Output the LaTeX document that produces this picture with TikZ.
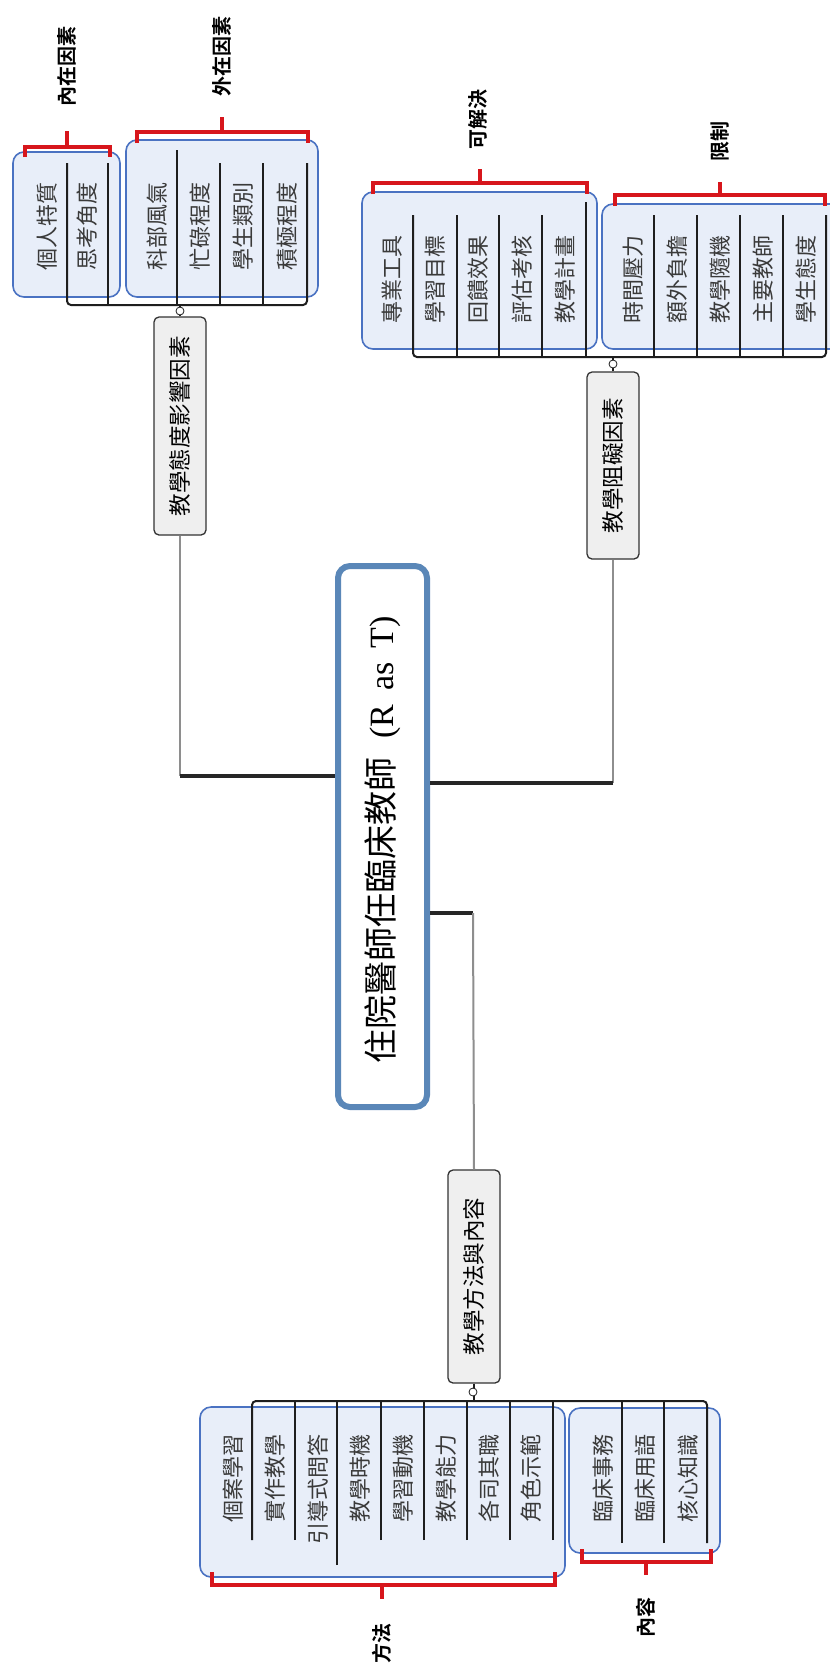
\documentclass[tikz,border=0pt]{standalone}
\usepackage{fontspec}
\newfontfamily\cjk{Noto Sans CJK TC}
\newfontfamily\cjkb{Noto Sans CJK TC Bold}
\newfontfamily\serifl{Liberation Serif}
\newcommand\kidfont{\cjk\fontsize{22}{22}\selectfont}
\newcommand\lblfont{\cjkb\fontsize{20}{20}\selectfont}
\newcommand\branchfont{\cjk\fontsize{22.5}{22.5}\selectfont}
\definecolor{coreblue}{HTML}{5A87B8}
\definecolor{grpblue}{HTML}{4A72C2}
\definecolor{grpfill}{HTML}{E8EEF9}
\definecolor{branchfill}{HTML}{EFEFEF}
\definecolor{branchdraw}{HTML}{333333}
\definecolor{redc}{HTML}{D7161C}
\definecolor{kidtext}{HTML}{3A3A3A}
\definecolor{busc}{HTML}{1E1E1E}
\definecolor{stemgray}{HTML}{8E8E8E}
\definecolor{trunkc}{HTML}{262626}
\begin{document}
\begin{tikzpicture}[x=1pt,y=-1pt,
  kid/.style={rotate=90,inner sep=0pt,font=\kidfont,text=kidtext},
  lbl/.style={rotate=90,inner sep=0pt,font=\lblfont,text=black},
  branch/.style={rotate=90,draw=branchdraw,fill=branchfill,rounded corners=5pt,line width=1.3pt,minimum height=52pt,inner sep=0pt,font=\branchfont,text=black},
  grp/.style={draw=grpblue,fill=grpfill,rounded corners=11pt,line width=1.6pt},
  redbr/.style={draw=redc,line width=4.5pt},
  bus/.style={draw=busc,line width=2pt,rounded corners=4pt},
  stem/.style={draw=stemgray,line width=2pt},
  trunk/.style={draw=trunkc,line width=4.5pt},
  knob/.style={circle,draw=busc,fill=white,line width=0.8pt,minimum size=8pt,inner sep=0pt},
]
\fill[white] (0,0) rectangle (830,1674);
\useasboundingbox (0,0) rectangle (830,1674);

% ---------- group A : 教學態度影響因素 ----------
\draw[grp] (13,152) rectangle (120,297);
\draw[grp] (126,140) rectangle (318,297);
\foreach \n/\x/\t in {a1/67/163,a2/108/163,a3/177/150,a4/220/163,a5/263/163,a6/307/163}{
  \coordinate (\n-t) at (\x,\t);
  \coordinate (\n-b) at (\x,305);
}
\draw[bus] (a1-t) -- (a1-b) -- (a6-b) -- (a6-t);
\foreach \n in {a2,a3,a4,a5}{\draw[bus] (\n-t) -- (\n-b);}
\node[kid,anchor=west] (a1) at (47,271) {個人特質};
\node[kid,anchor=west] (a2) at (87,271) {思考角度};
\node[kid,anchor=west] (a3) at (157,271) {科部風氣};
\node[kid,anchor=west] (a4) at (200,271) {忙碌程度};
\node[kid,anchor=west] (a5) at (243,271) {學生類別};
\node[kid,anchor=west] (a6) at (287,271) {積極程度};

\draw[redbr] (25,157) -- (25,147) -- (110,147) -- (110,157);
\draw[redbr] (67,147) -- (67,131);
\draw[redbr] (137,143) -- (137,132) -- (308,132) -- (308,143);
\draw[redbr] (222,132) -- (222,117);
\node[lbl,anchor=west] (la1) at (67,107) {內在因素};
\node[lbl,anchor=west] (la2) at (222,97) {外在因素};

\node[branch,minimum width=218pt] (A) at (180,426) {教學態度影響因素};
\draw[bus] (A.east) -- (A.east |- a1-b);
\node[knob] (kA) at (180,311) {};

% ---------- group B : 教學阻礙因素 ----------
\draw[grp] (362,192) rectangle (597,349);
\draw[grp] (602,204) rectangle (860,349);
\foreach \n/\x/\t in {b1/413/215,b2/457/215,b3/499/215,b4/542/215,b5/586/202,b6/654/215,b7/697/215,b8/740/215,b9/783/215,b10/826/215}{
  \coordinate (\n-t) at (\x,\t);
  \coordinate (\n-b) at (\x,357);
}
\draw[bus] (b1-t) -- (b1-b) -- (b10-b) -- (b10-t);
\foreach \n in {b2,b3,b4,b5,b6,b7,b8,b9}{\draw[bus] (\n-t) -- (\n-b);}
\node[kid,anchor=west] (b1) at (392,324) {專業工具};
\node[kid,anchor=west] (b2) at (435,324) {學習目標};
\node[kid,anchor=west] (b3) at (478,324) {回饋效果};
\node[kid,anchor=west] (b4) at (522,324) {評估考核};
\node[kid,anchor=west] (b5) at (565,324) {教學計畫};
\node[kid,anchor=west] (b6) at (633,324) {時間壓力};
\node[kid,anchor=west] (b7) at (677,324) {額外負擔};
\node[kid,anchor=west] (b8) at (720,324) {教學隨機};
\node[kid,anchor=west] (b9) at (763,324) {主要教師};
\node[kid,anchor=west] (b10) at (806,324) {學生態度};

\draw[redbr] (373,194) -- (373,183) -- (587,183) -- (587,194);
\draw[redbr] (480,183) -- (480,169);
\draw[redbr] (615,206) -- (615,195) -- (825,195) -- (825,206);
\draw[redbr] (720,195) -- (720,182);
\node[lbl,anchor=west] (lb1) at (478,150) {可解決};
\node[lbl,anchor=west] (lb2) at (720,162) {限制};

\node[branch,minimum width=187pt] (B) at (613,465.5) {教學阻礙因素};
\draw[bus] (B.east) -- (B.east |- b1-b);
\node[knob] (kB) at (613,364) {};

% ---------- group C : 教學方法與內容 ----------
\draw[grp] (200,1407) rectangle (565,1577);
\draw[grp] (569,1408) rectangle (720,1553);
\foreach \n/\x/\t in {c1/252/1540,c2/295/1540,c3/337/1565,c4/381/1540,c5/424/1540,c6/467/1540,c7/510/1540,c8/553/1540,c9/622/1543,c10/664/1543,c11/707/1543}{
  \coordinate (\n-t) at (\x,\t);
  \coordinate (\n-b) at (\x,1401);
}
\draw[bus] (c1-t) -- (c1-b) -- (c11-b) -- (c11-t);
\foreach \n in {c2,c3,c4,c5,c6,c7,c8,c9,c10}{\draw[bus] (\n-t) -- (\n-b);}
\node[kid,anchor=east] (c1) at (233,1434) {個案學習};
\node[kid,anchor=east] (c2) at (275,1434) {實作教學};
\node[kid,anchor=east] (c3) at (318,1434) {引導式問答};
\node[kid,anchor=east] (c4) at (360,1434) {教學時機};
\node[kid,anchor=east] (c5) at (403,1434) {學習動機};
\node[kid,anchor=east] (c6) at (446,1434) {教學能力};
\node[kid,anchor=east] (c7) at (489,1434) {各司其職};
\node[kid,anchor=east] (c8) at (531,1434) {角色示範};
\node[kid,anchor=east] (c9) at (603,1434) {臨床事務};
\node[kid,anchor=east] (c10) at (645,1434) {臨床用語};
\node[kid,anchor=east] (c11) at (688,1434) {核心知識};

\draw[redbr] (212,1572) -- (212,1585) -- (555,1585) -- (555,1572);
\draw[redbr] (382,1585) -- (382,1599);
\draw[redbr] (582,1549) -- (582,1562) -- (711,1562) -- (711,1549);
\draw[redbr] (646,1562) -- (646,1575);
\node[lbl,anchor=east] (lc1) at (382,1623) {方法};
\node[lbl,anchor=east] (lc2) at (646,1597) {內容};

\node[branch,minimum width=213pt] (C) at (474,1276.5) {教學方法與內容};
\draw[bus] (C.west) -- (C.west |- c1-b);
\node[knob] (kC) at (473,1392) {};

% ---------- centre ----------
\coordinate (jA) at (180,776);
\coordinate (jB) at (613,783);
\coordinate (jC) at (473,913);
\node[rotate=90,draw=coreblue,fill=white,line width=6pt,rounded corners=12pt,minimum width=541pt,minimum height=89pt,inner sep=0pt] (core) at (382.5,836.5) {};
\node[rotate=90,inner sep=0pt,text=black] (title) at (383,840) {{\cjk\fontsize{34}{34}\selectfont 住院醫師任臨床教師}\hspace{19pt}{\serifl\fontsize{34}{34}\selectfont (R\hspace{14pt}as\hspace{14pt}T)}};
\draw[stem] (A.west) -- (jA);
\draw[trunk] (jA) -- (jA -| core.north);
\draw[stem] (B.west) -- (jB);
\draw[trunk] (jB) -- (jB -| core.south);
\draw[trunk] (jC -| core.south) -- (jC);
\draw[stem] (jC) -- (C.east);
\end{tikzpicture}
\end{document}
